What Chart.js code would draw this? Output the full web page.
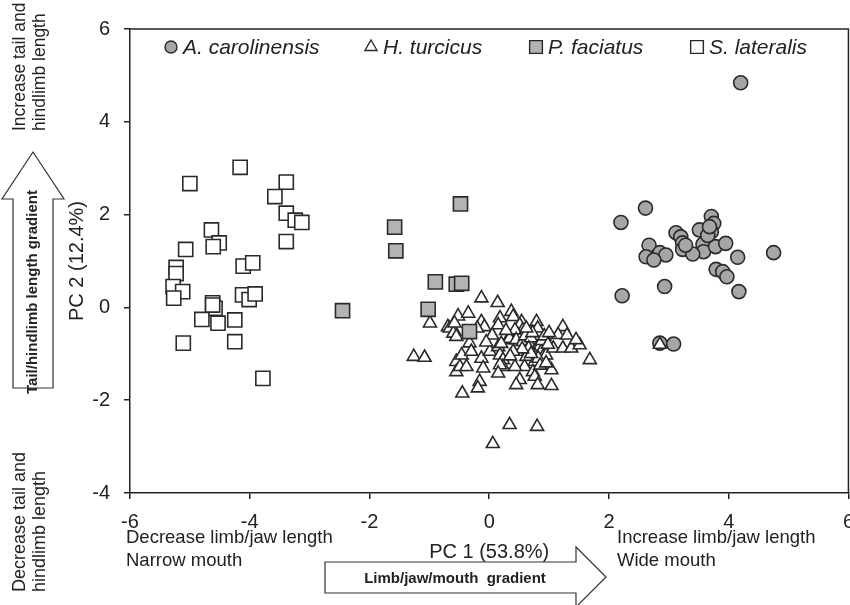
<!DOCTYPE html>
<html><head><meta charset="utf-8">
<script src="https://cdn.jsdelivr.net/npm/chart.js@4.4.0/dist/chart.umd.min.js"></script>
<style>html,body{margin:0;padding:0;background:#fff;overflow:hidden;width:850px;height:605px}#c{display:block}</style>
</head><body><canvas id="c" width="865" height="605"></canvas>
<script>
// ---------- data ----------
const seriesNames = ['A. carolinensis', 'H. turcicus', 'P. faciatus', 'S. lateralis'];
const xTickValues = [-6, -4, -2, 0, 2, 4, 6];
const yTickValues = [-4, -2, 0, 2, 4, 6];
const xAxisTitle = 'PC 1 (53.8%)';
const yAxisTitle = 'PC 2 (12.4%)';

const carolinensis = [
  [4.20,4.84],[2.61,2.14],[2.20,1.83],[3.12,1.61],[3.20,1.52],[3.23,1.39],[3.23,1.25],
  [3.51,1.67],[3.71,1.96],[3.75,1.81],[3.71,1.63],[3.57,1.36],[3.58,1.20],[3.40,1.15],
  [3.78,1.31],[3.95,1.38],[2.67,1.34],[2.85,1.18],[2.95,1.13],[2.62,1.09],[2.75,1.02],
  [4.15,1.08],[4.75,1.18],[3.79,0.82],[3.90,0.77],[3.97,0.66],[2.93,0.45],[4.17,0.34],
  [2.22,0.25],[2.85,-0.77],[3.08,-0.79],[3.65,1.55],[3.28,1.34],[3.68,1.74]
];
const turcicus = [
  [-1.26,-1.06],[-1.08,-1.08],[-0.99,-0.34],[-0.69,-0.42],[-0.66,-0.45],[-0.58,-0.52],
  [-0.60,-0.56],[-0.55,-0.63],[-0.52,-0.19],[-0.35,-0.13],[-0.58,-0.34],[-0.55,-1.17],
  [-0.55,-1.39],[-0.46,-1.03],[-0.49,-1.28],[-0.38,-1.28],[-0.45,-1.85],[-0.33,-0.77],
  [-0.30,-0.95],[-0.13,0.20],[0.14,0.10],[-0.13,-0.31],[-0.08,-0.42],[0.18,-0.23],
  [0.15,-0.38],[0.37,-0.09],[0.40,-0.20],[0.54,-0.31],[0.51,-0.38],[0.56,-0.49],
  [0.79,-0.31],[0.81,-0.45],[0.48,-0.59],[0.43,-0.49],[0.31,-0.70],[0.34,-0.67],
  [0.45,-0.70],[0.56,-0.74],[0.68,-0.81],[0.65,-0.95],[0.79,-0.88],[0.84,-0.85],
  [0.87,-0.95],[0.76,-1.03],[0.90,-1.06],[0.95,-1.03],[0.62,-1.06],[0.76,-1.17],
  [0.59,-1.28],[0.43,-1.28],[0.73,-1.39],[0.76,-1.49],[1.04,-1.35],[1.23,-0.42],
  [1.15,-0.59],[1.07,-0.88],[1.23,-0.88],[1.37,-0.88],[1.51,-0.81],[1.68,-1.13],
  [-0.13,-1.10],[0.01,-0.95],[0.15,-0.85],[0.18,-1.03],[0.23,-1.13],[0.23,-1.28],
  [0.18,-1.24],[-0.10,-1.31],[0.15,-1.42],[-0.16,-1.60],[-0.19,-1.74],[0.51,-1.56],
  [0.45,-1.67],[0.81,-1.67],[1.04,-1.69],[0.34,-2.53],[0.80,-2.57],[0.06,-2.94],
  [2.85,-0.80],[0.60,-0.62],[0.70,-0.66],[0.72,-0.55],[0.88,-0.72],[0.92,-0.62],
  [0.66,-0.88],[0.82,-1.10],[0.70,-1.00],[0.98,-0.80],[0.55,-0.90],[0.40,-0.95],
  [1.00,-0.55],[0.62,-0.45],[0.28,-0.50],[0.05,-0.60],[-0.05,-0.75],[0.20,-0.78],
  [1.30,-0.60],[1.45,-0.70],[-0.20,-0.45],[0.35,-1.05],[0.85,-1.25],[0.95,-1.20]
];
const faciatus = [
  [-1.58,1.73],[-1.56,1.22],[-2.45,-0.07],[-0.90,0.55],[-1.02,-0.04],[-0.48,2.23],
  [-0.55,0.50],[-0.46,0.52],[-0.33,-0.52]
];
const lateralis = [
  [-4.16,3.02],[-5.00,2.67],[-3.39,2.70],[-3.58,2.39],[-3.39,2.03],[-3.24,1.88],
  [-3.13,1.83],[-3.39,1.42],[-4.64,1.67],[-4.51,1.39],[-4.61,1.31],[-5.07,1.25],
  [-4.11,0.89],[-3.95,0.96],[-5.23,0.86],[-5.23,0.73],[-5.28,0.45],[-5.12,0.34],
  [-5.27,0.20],[-4.62,0.10],[-4.58,-0.02],[-4.12,0.27],[-4.01,0.17],[-3.91,0.29],
  [-4.80,-0.26],[-4.53,-0.34],[-4.25,-0.27],[-5.11,-0.77],[-4.25,-0.74],[-3.78,-1.53],
  [-4.62,0.05]
];

// ---------- helpers ----------
const toPts = arr => arr.map(p => ({x: p[0], y: p[1]}));
const INK = '#222';
const FONT = '"Liberation Sans", Arial, sans-serif';

const styles = [
  {pointStyle: 'circle',   radius: 7,   bg: '#a6a6a6', legR: 6},
  {pointStyle: 'triangle', radius: 7.5, bg: '#ffffff', legR: 7},
  {pointStyle: 'rect',     radius: 10,  bg: '#b3b3b3', legR: 9},
  {pointStyle: 'rect',     radius: 10,  bg: '#ffffff', legR: 9}
];
const seriesData = [carolinensis, turcicus, faciatus, lateralis];
const drawOrder = [3, 2, 1, 0];

const datasets = seriesNames.map((name, i) => ({
  label: name,
  data: toPts(seriesData[i]),
  pointStyle: styles[i].pointStyle,
  pointRadius: styles[i].radius,
  pointHoverRadius: styles[i].radius,
  backgroundColor: styles[i].bg,
  borderColor: '#2a2a2a',
  borderWidth: 1.6,
  order: drawOrder[i]
}));

function textRot(ctx, str, x, y) {
  ctx.save();
  ctx.translate(x, y);
  ctx.rotate(-Math.PI / 2);
  ctx.fillText(str, 0, 0);
  ctx.restore();
}

const annot = {
  id: 'annot',
  beforeDatasetsDraw(chart) {
    const {ctx, chartArea: a} = chart;
    ctx.save();
    ctx.strokeStyle = INK;
    ctx.lineWidth = 1.5;
    ctx.beginPath();
    ctx.moveTo(a.left, a.top);
    ctx.lineTo(a.right, a.top);
    ctx.lineTo(a.right, a.bottom);
    ctx.stroke();
    ctx.restore();
  },
  afterDraw(chart) {
    const {ctx, chartArea: a} = chart;
    ctx.save();
    // legend inside the plot area
    const legX = [171, 371, 536, 697];
    const legY = a.top + 18;
    ctx.textBaseline = 'middle';
    ctx.textAlign = 'left';
    seriesNames.forEach((name, i) => {
      const st = styles[i];
      ctx.fillStyle = st.bg; ctx.strokeStyle = '#2a2a2a'; ctx.lineWidth = 1.4;
      Chart.helpers.drawPoint(ctx, {pointStyle: st.pointStyle, radius: st.legR, borderWidth: 1.4}, legX[i], legY);
      ctx.fillStyle = INK;
      ctx.font = 'italic 21px ' + FONT;
      ctx.fillText(name, legX[i] + 12, legY + 1);
    });

    // bottom annotations
    ctx.font = '18.5px ' + FONT;
    ctx.fillStyle = INK;
    ctx.textAlign = 'left';
    ctx.textBaseline = 'middle';
    ctx.fillText('Decrease limb/jaw length', 126, 538);
    ctx.fillText('Narrow mouth', 126, 561);
    ctx.fillText('Increase limb/jaw length', 617, 538);
    ctx.fillText('Wide mouth', 617, 561);

    // horizontal arrow
    ctx.strokeStyle = '#333';
    ctx.lineWidth = 1.2;
    ctx.fillStyle = '#fff';
    ctx.beginPath();
    ctx.moveTo(325, 562); ctx.lineTo(576, 562); ctx.lineTo(576, 547);
    ctx.lineTo(606, 577); ctx.lineTo(576, 607); ctx.lineTo(576, 593);
    ctx.lineTo(325, 593); ctx.closePath();
    ctx.fill(); ctx.stroke();
    ctx.fillStyle = INK;
    ctx.font = 'bold 15px ' + FONT;
    ctx.textAlign = 'center';
    ctx.fillText('Limb/jaw/mouth  gradient', 455, 579);

    // vertical arrow (left)
    ctx.fillStyle = '#fff';
    ctx.beginPath();
    ctx.moveTo(13, 388); ctx.lineTo(13, 199); ctx.lineTo(2, 199);
    ctx.lineTo(33, 152); ctx.lineTo(64, 199); ctx.lineTo(53, 199);
    ctx.lineTo(53, 388); ctx.closePath();
    ctx.fill(); ctx.stroke();
    ctx.fillStyle = INK;
    ctx.font = 'bold 15px ' + FONT;
    ctx.textAlign = 'center';
    textRot(ctx, 'Tail/hindlimb length gradient', 33, 292);

    // left rotated texts
    ctx.textAlign = 'left';
    ctx.font = '17.5px ' + FONT;
    textRot(ctx, 'Increase tail and', 20, 131);
    textRot(ctx, 'hindlimb length', 40, 131);
    ctx.font = '18px ' + FONT;
    textRot(ctx, 'Decrease tail and', 20, 592);
    textRot(ctx, 'hindlimb length', 40, 592);
    ctx.restore();
  }
};

const axisCommon = {
  type: 'linear',
  grid: {drawOnChartArea: false, drawTicks: true, tickLength: 6, color: INK, lineWidth: 1.5},
  border: {display: true, color: INK, width: 1.5},
  title: {display: true, color: INK, font: {family: FONT, size: 20}, padding: {top: 2, bottom: 4}}
};

new Chart(document.getElementById('c'), {
  type: 'scatter',
  data: {datasets},
  options: {
    responsive: false,
    animation: false,
    devicePixelRatio: 1,
    layout: {padding: {left: 63, top: 29, right: 1, bottom: 37}},
    plugins: {legend: {display: false}, tooltip: {enabled: false}},
    scales: {
      x: Object.assign({}, axisCommon, {
        position: 'bottom',
        min: xTickValues[0], max: xTickValues[xTickValues.length - 1],
        ticks: {color: INK, font: {family: FONT, size: 20}, padding: 11},
        title: Object.assign({}, axisCommon.title, {text: xAxisTitle}),
        afterBuildTicks: s => { s.ticks = xTickValues.map(v => ({value: v})); },
        afterFit: s => { s.height = 75; }
      }),
      y: Object.assign({}, axisCommon, {
        position: 'left',
        min: yTickValues[0], max: yTickValues[yTickValues.length - 1],
        ticks: {color: INK, font: {family: FONT, size: 20}, padding: 14},
        title: Object.assign({}, axisCommon.title, {text: yAxisTitle}),
        afterBuildTicks: s => { s.ticks = yTickValues.map(v => ({value: v})); },
        afterFit: s => { s.width = 67; }
      })
    }
  },
  plugins: [annot]
});
</script>
</body></html>
